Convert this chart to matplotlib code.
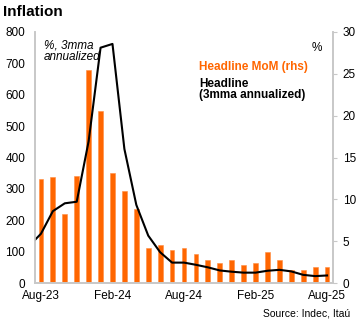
import numpy as np
import matplotlib.pyplot as plt

plt.rcParams['font.family'] = ['Liberation Sans', 'DejaVu Sans']

# monthly, Aug-23 .. Aug-25
months = ['Aug-23', 'Sep-23', 'Oct-23', 'Nov-23', 'Dec-23', 'Jan-24', 'Feb-24',
          'Mar-24', 'Apr-24', 'May-24', 'Jun-24', 'Jul-24', 'Aug-24', 'Sep-24',
          'Oct-24', 'Nov-24', 'Dec-24', 'Jan-25', 'Feb-25', 'Mar-25', 'Apr-25',
          'May-25', 'Jun-25', 'Jul-25', 'Aug-25']
mom = [12.4, 12.7, 8.3, 12.8, 25.5, 20.6, 13.2, 11.0, 8.8, 4.2, 4.6, 4.0, 4.2,
       3.5, 2.7, 2.4, 2.7, 2.2, 2.4, 3.7, 2.8, 1.5, 1.6, 1.9, 1.9]
# 3mma annualized, starts one month earlier (Jul-23), clipped at the left edge
saar_3mma = [118, 157, 229, 254, 259, 452, 750, 762, 427, 249, 151, 98, 65, 65,
             58, 50, 40, 36, 33, 33, 39, 42, 37, 26, 22, 24]
tick_months = ['Aug-23', 'Feb-24', 'Aug-24', 'Feb-25', 'Aug-25']

x = np.arange(len(months))
xl = np.arange(-1, len(months))

fig = plt.figure(figsize=(3.6, 3.28), dpi=100)
ax = fig.add_axes([35/360, 1-283/328, 298/360, 251/328])
ax2 = ax.twinx()
ax.set_zorder(ax2.get_zorder() + 1)
ax.patch.set_visible(False)
ax2.patch.set_facecolor('#f2f2f2')

ax2.bar(x, mom, width=0.4, color='#ff6600', edgecolor='#ff8c40', linewidth=0.4)
ax.plot(xl, saar_3mma, color='black', lw=1.5)

ax.set_xlim(-0.5, 24.5)
ax.set_ylim(0, 800)
ax2.set_ylim(0, 30)
ax.set_yticks(np.arange(0, 801, 100))
ax2.set_yticks(np.arange(0, 31, 5))
ax.set_xticks([months.index(m) for m in tick_months])
ax.set_xticklabels(tick_months)

for a in (ax, ax2):
    for s in a.spines.values():
        s.set_color('#c8c8c8')
        s.set_linewidth(1.2)
    a.spines['top'].set_visible(False)
ax.tick_params(axis='y', length=0, pad=7, labelsize=8.5)
ax.tick_params(axis='x', length=0, pad=5, labelsize=8.5)
ax2.tick_params(axis='y', length=3, color='#c8c8c8', pad=4, labelsize=8.5)

fig.text(3/360, 1-12/328, 'Inflation', fontsize=11, fontweight='bold', va='center')
fig.text(350/360, 1-314/328, 'Source: Indec, Itaú', fontsize=7.5, ha='right', va='center')

ax.text(44/360, 1-40/328, '%, 3mma\nannualized', transform=fig.transFigure,
        fontsize=8.5, style='italic', va='top', linespacing=0.9)
ax.text(322/360, 1-48/328, '%', transform=fig.transFigure, fontsize=8.5,
        ha='right', va='center')
ax.text(199/360, 1-67/328, 'Headline MoM (rhs)', transform=fig.transFigure,
        fontsize=8.5, fontweight='bold', color='#ff6600', va='center')
ax.text(199/360, 1-78/328, 'Headline\n(3mma annualized)', transform=fig.transFigure,
        fontsize=8.5, fontweight='bold', color='black', va='top', linespacing=0.85)

fig.savefig('out.png', dpi=100)
